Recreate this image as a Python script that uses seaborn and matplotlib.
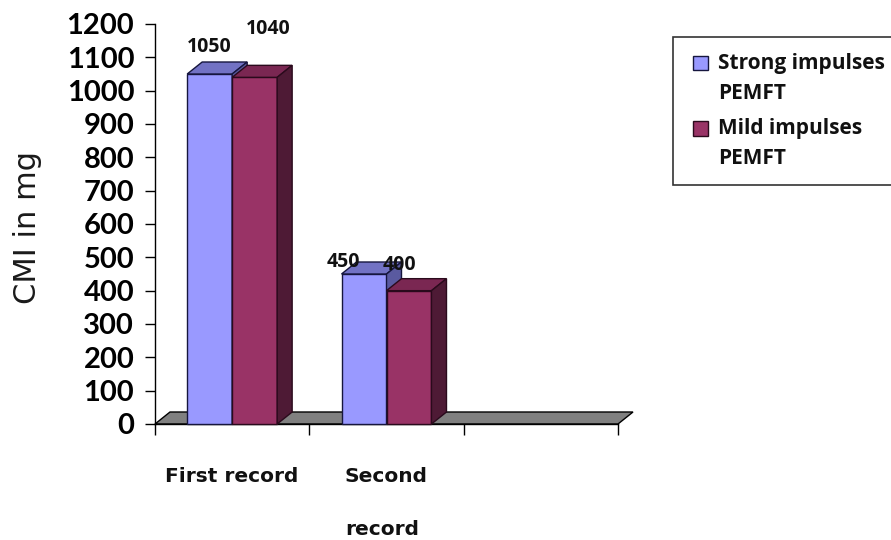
import matplotlib
matplotlib.use("Agg")
import matplotlib.pyplot as plt
from matplotlib.patches import Polygon, Rectangle
import pandas as pd
import seaborn as sns

# ---- data -------------------------------------------------------------
records = ["First record", "Second\nrecord", ""]
groups = ["Strong impulses\nPEMFT", "Mild impulses\nPEMFT"]
strong_cmi = [1050, 450]
mild_cmi = [1040, 400]
y_ticks = list(range(0, 1201, 100))

# ---- style ------------------------------------------------------------
front = ["#9999FF", "#993366"]
top_face = ["#7272C4", "#7A2752"]
side_face = ["#5A5AA0", "#4E1A35"]
edge = ["#16163E", "#2A0A1C"]
floor_color = "#808080"
DX, DY = 15, 12          # depth of the 3-D extrusion, in pixels

# label offsets (pixels) for each series / bar
label_offsets = [[(0, 27), (-21, 12)], [(13.5, 48), (-9.5, 26)]]

df = pd.DataFrame({
    "record": records[:2] * 2,
    "group": [groups[0]] * 2 + [groups[1]] * 2,
    "cmi": strong_cmi + mild_cmi,
})

sns.set_theme(style="ticks")
plt.rcParams["font.family"] = ["DejaVu Sans"]

fig = plt.figure(figsize=(8.91, 5.40), dpi=100)
fig.patch.set_facecolor("white")
ax = fig.add_axes([155 / 891, 1 - 424 / 540, 463 / 891, 400 / 540])
ax.set_facecolor("none")

sns.barplot(data=df, x="record", y="cmi", hue="group", order=records,
            hue_order=groups, palette=front, saturation=1, width=0.583,
            dodge=True, legend=False, ax=ax, linewidth=1, edgecolor="black")

ax.set_xlim(-0.5, 2.5)
ax.set_ylim(0, 1200)

to_px = ax.transData.transform
to_data = ax.transData.inverted().transform


def back(x, y):
    px, py = to_px((x, y))
    return tuple(to_data((px + DX, py + DY)))


# grey floor under the bars
floor = Polygon([(-0.5, 0), (2.5, 0), back(2.5, 0), back(-0.5, 0)],
                closed=True, facecolor=floor_color, edgecolor="black",
                linewidth=1, zorder=0.8, clip_on=False)
ax.add_patch(floor)

# extrude each bar: top and right-hand faces
for k, cont in enumerate(ax.containers):
    for j, bar in enumerate(cont):
        bar.set_zorder(2 + k)
        bar.set_edgecolor(edge[k])
        bar.set_clip_on(False)
        x0 = bar.get_x()
        x1 = x0 + bar.get_width()
        h = bar.get_height()
        top = Polygon([(x0, h), (x1, h), back(x1, h), back(x0, h)], closed=True,
                      facecolor=top_face[k], edgecolor=edge[k], linewidth=1,
                      zorder=2.1 + k, clip_on=False)
        side = Polygon([(x1, 0), (x1, h), back(x1, h), back(x1, 0)], closed=True,
                       facecolor=side_face[k], edgecolor=edge[k], linewidth=1,
                       zorder=2.1 + k, clip_on=False)
        ax.add_patch(top)
        ax.add_patch(side)
        dx, dy = label_offsets[k][j]
        ax.annotate(f"{h:.0f}", xy=(x0 + bar.get_width() / 2, h),
                    xytext=(dx, dy), textcoords="offset pixels",
                    ha="center", va="center", fontsize=14,
                    fontfamily="Open Sans", fontweight="bold", color="#111111",
                    zorder=6, annotation_clip=False)

# axes and ticks
sns.despine(ax=ax)
for s in ("left", "bottom"):
    ax.spines[s].set_linewidth(1)
    ax.spines[s].set_color("black")
    ax.spines[s].set_zorder(1.5)

ax.set_yticks(y_ticks)
ax.set_yticklabels([str(v) for v in y_ticks], fontfamily="Lato",
                   fontweight="bold", fontsize=21)
ax.tick_params(axis="y", direction="out", length=7, width=1, pad=8,
               colors="black")

ax.set_xticks([-0.5, 0.5, 1.5, 2.5])
ax.set_xticklabels([])
ax.set_xticks([0, 1, 2], minor=True)
ax.set_xticklabels(records, minor=True, fontweight="bold", fontsize=14.5,
                   color="#111111")
ax.tick_params(axis="x", which="major", direction="out", length=8, width=1,
               color="black")
ax.tick_params(axis="x", which="minor", length=0, pad=31)
for lbl in ax.get_xticklabels(minor=True):
    lbl.set_linespacing(3.25)
    lbl.set_multialignment("left")
ax.set_xlabel("")

ax.set_ylabel("CMI in mg", fontsize=22, color="#1a1a1a")
ax.yaxis.set_label_coords(-0.244, 0.49)


class FirstLineSquare:
    """Legend key: a square next to the first line of a two-line label."""

    def __init__(self, lift, shift):
        self.lift = lift
        self.shift = shift

    def legend_artist(self, legend, orig_handle, fontsize, handlebox):
        w = handlebox.width
        h = handlebox.height
        key = Rectangle((-handlebox.xdescent + self.shift,
                         -handlebox.ydescent + self.lift), w, h,
                        facecolor=orig_handle.get_facecolor(),
                        edgecolor=orig_handle.get_edgecolor(), linewidth=1,
                        transform=handlebox.get_transform())
        handlebox.add_artist(key)
        return key


handles = [Rectangle((0, 0), 1, 1, facecolor=front[k], edgecolor=edge[k])
           for k in range(2)]
leg = ax.legend(handles, groups, loc="upper left",
                bbox_to_anchor=(673 / 891, 1 - 37 / 540),
                bbox_transform=fig.transFigure, frameon=True, fancybox=False,
                borderaxespad=0, borderpad=0.75, handlelength=0.7,
                handleheight=0.7, handletextpad=0.71, labelspacing=0.65,
                prop=dict(family="Open Sans", weight="bold", size=15),
                handler_map={Rectangle: FirstLineSquare(11.5, 3.2)})
leg.get_frame().set_edgecolor("black")
leg.get_frame().set_linewidth(1.2)
for t in leg.get_texts():
    t.set_linespacing(1.6)
    t.set_color("#111111")

fig.savefig("out.png", dpi=100, facecolor="white")
